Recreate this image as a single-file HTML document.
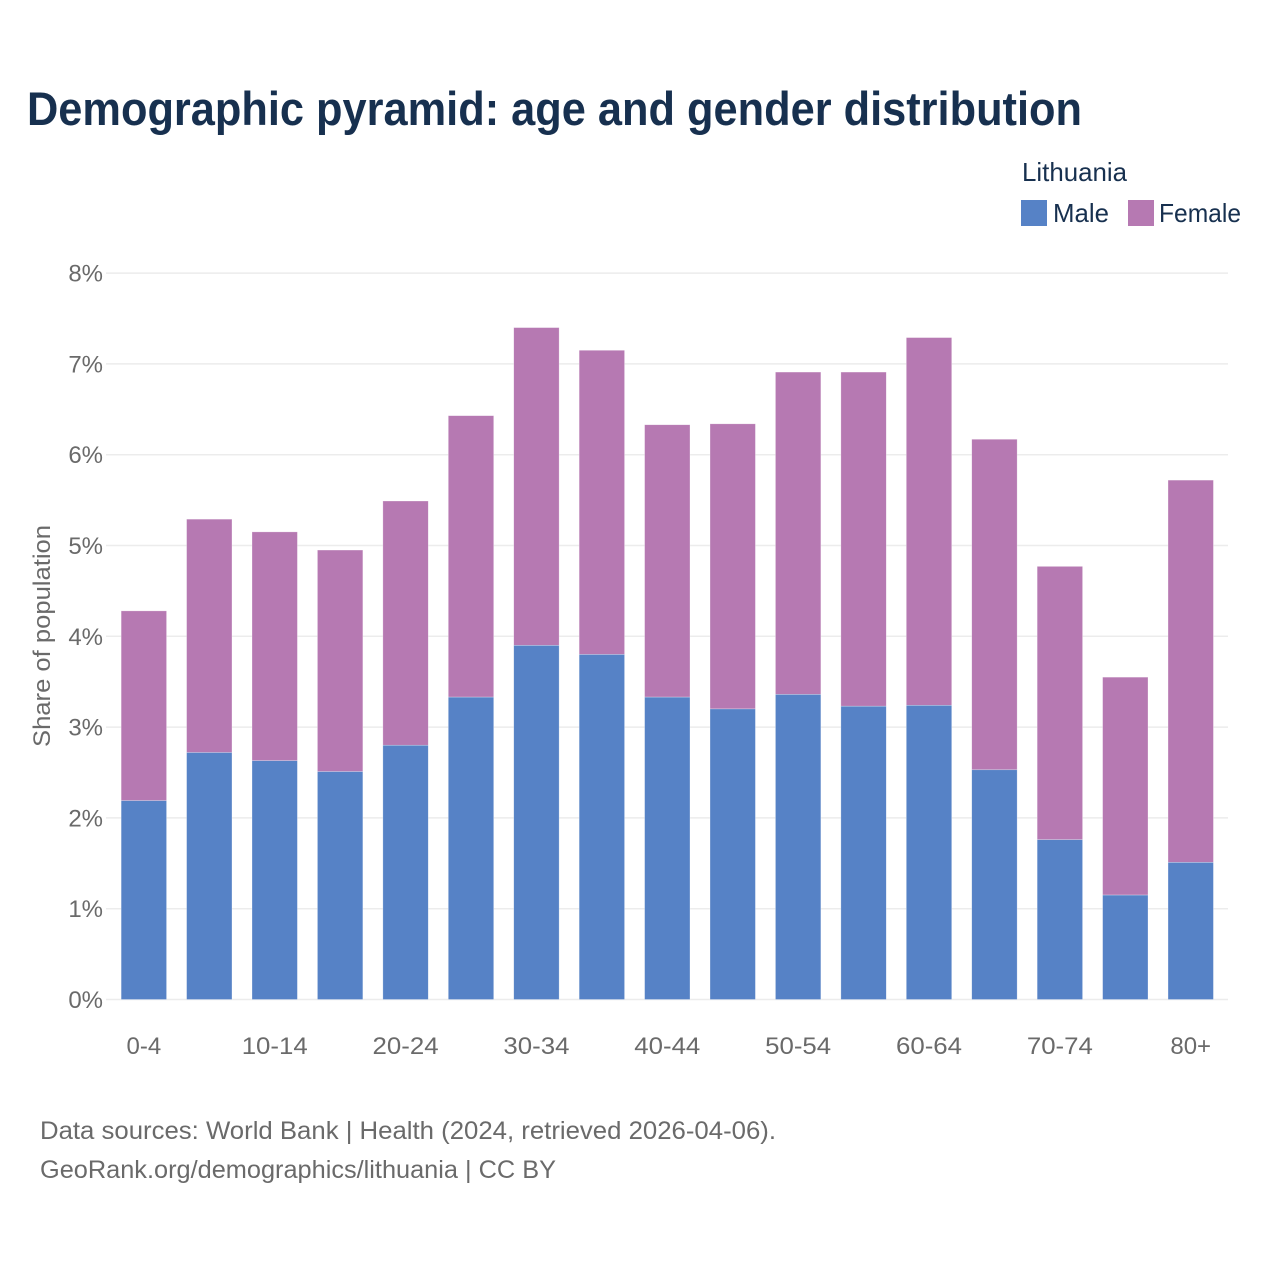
<!DOCTYPE html>
<html lang="en">
<head>
<meta charset="utf-8">
<title>Demographic pyramid: age and gender distribution</title>
<style>
html,body{margin:0;padding:0;background:#fff;}
svg{display:block;}
text{font-family:"Liberation Sans",sans-serif;}
</style>
</head>
<body>
<svg id="chart" width="1280" height="1280" viewBox="0 0 1280 1280" xmlns="http://www.w3.org/2000/svg">
  <rect x="0" y="0" width="1280" height="1280" fill="#ffffff"/>
  <text x="27" y="125" font-size="47" font-weight="700" fill="#17304f" textLength="1055" lengthAdjust="spacingAndGlyphs">Demographic pyramid: age and gender distribution</text>
  <text x="1022" y="181" font-size="26" fill="#17304f" textLength="105" lengthAdjust="spacingAndGlyphs">Lithuania</text>
  <rect x="1021" y="200" width="26" height="26" fill="#5682c6"/>
  <text x="1053" y="222" font-size="26" fill="#17304f" textLength="56" lengthAdjust="spacingAndGlyphs">Male</text>
  <rect x="1128" y="200" width="26" height="26" fill="#b679b2"/>
  <text x="1159" y="222" font-size="26" fill="#17304f" textLength="82" lengthAdjust="spacingAndGlyphs">Female</text>
  <text transform="translate(50,636) rotate(-90)" text-anchor="middle" font-size="24" fill="#6a6a6a" textLength="222" lengthAdjust="spacingAndGlyphs">Share of population</text>
  <g id="grid"></g>
  <g id="y-ticks"></g>
  <g id="bars"></g>
  <g id="x-ticks"></g>
  <text x="40" y="1139" font-size="25" fill="#6a6a6a" textLength="736" lengthAdjust="spacingAndGlyphs">Data sources: World Bank | Health (2024, retrieved 2026-04-06).</text>
  <text x="40" y="1178" font-size="25" fill="#6a6a6a" textLength="516" lengthAdjust="spacingAndGlyphs">GeoRank.org/demographics/lithuania | CC BY</text>
</svg>
<script>
const categories = ["0-4","5-9","10-14","15-19","20-24","25-29","30-34","35-39","40-44","45-49","50-54","55-59","60-64","65-69","70-74","75-79","80+"];
const maleValues = [2.19,2.72,2.63,2.51,2.80,3.33,3.90,3.80,3.33,3.20,3.36,3.23,3.24,2.53,1.76,1.15,1.51];
const femaleValues = [2.09,2.57,2.52,2.44,2.69,3.10,3.50,3.35,3.00,3.14,3.55,3.68,4.05,3.64,3.01,2.40,4.21];
const yTickValues = [0,1,2,3,4,5,6,7,8];
const xTickLabels = ["0-4","10-14","20-24","30-34","40-44","50-54","60-64","70-74","80+"];

const NS = "http://www.w3.org/2000/svg";
const yScale = v => 999.5 - v * 90.8;
const xCenter = i => 143.85 + i * 65.43;
const barWidth = 45.4;

function make(tag, attrs, parent) {
  const el = document.createElementNS(NS, tag);
  for (const k in attrs) el.setAttribute(k, attrs[k]);
  parent.appendChild(el);
  return el;
}

const gridG = document.getElementById("grid");
const yTicksG = document.getElementById("y-ticks");
const barsG = document.getElementById("bars");
const xTicksG = document.getElementById("x-ticks");

yTickValues.forEach(v => {
  const line = make("line", {x1:106, x2:1228, y1:yScale(v), y2:yScale(v), stroke:"#ececec", "stroke-width":1.5}, gridG);
  
  
  const label = make("text", {x:103, y:yScale(v)+8.5, "text-anchor":"end", "font-size":24, fill:"#6a6a6a"}, yTicksG);
  label.textContent = v + "%";
  
  
});

categories.forEach((c, i) => {
  const male = maleValues[i];
  const female = femaleValues[i];
  const left = xCenter(i) - barWidth / 2;
  const f = make("rect", {x:left, y:yScale(male + female), width:barWidth, height:yScale(male) - yScale(male + female), fill:"#b679b2", stroke:"#ffffff", "stroke-opacity":0.45, "stroke-width":0.6}, barsG);
  
  
  const m = make("rect", {x:left, y:yScale(male), width:barWidth, height:yScale(0) - yScale(male), fill:"#5682c6", stroke:"#ffffff", "stroke-opacity":0.45, "stroke-width":0.6}, barsG);
  
  
  if (xTickLabels.includes(c)) {
    const t = make("text", {x:xCenter(i), y:1054, "text-anchor":"middle", "font-size":24, fill:"#6a6a6a"}, xTicksG);
    t.textContent = c;
    if (c.length === 5) {
      t.setAttribute("textLength", 66);
      t.setAttribute("lengthAdjust", "spacingAndGlyphs");
    }
    
    
  }
});
</script>
</body>
</html>
